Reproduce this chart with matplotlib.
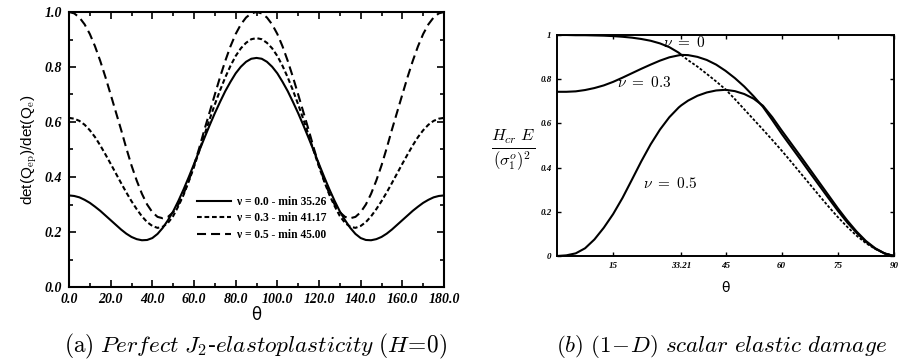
import matplotlib
matplotlib.use("Agg")
import matplotlib.pyplot as plt
from matplotlib.ticker import MultipleLocator

plt.rcParams['mathtext.fontset'] = 'cm'
plt.rcParams['lines.scale_dashes'] = False

# ---------------- data: panel (a) ----------------
theta_a = [0, 2.5, 5, 7.5, 10, 12.5, 15, 17.5, 20, 22.5, 25, 27.5, 30, 32.5, 35, 37.5, 40, 42.5, 45,
           47.5, 50, 52.5, 55, 57.5, 60, 62.5, 65, 67.5, 70, 72.5, 75, 77.5, 80, 82.5, 85, 87.5, 90,
           92.5, 95, 97.5, 100, 102.5, 105, 107.5, 110, 112.5, 115, 117.5, 120, 122.5, 125, 127.5, 130,
           132.5, 135, 137.5, 140, 142.5, 145, 147.5, 150, 152.5, 155, 157.5, 160, 162.5, 165, 167.5,
           170, 172.5, 175, 177.5, 180]
nu00_a = [0.333, 0.331, 0.326, 0.317, 0.306, 0.292, 0.277, 0.260, 0.243, 0.226, 0.209, 0.194, 0.182,
          0.174, 0.170, 0.171, 0.178, 0.193, 0.215, 0.243, 0.275, 0.313, 0.355, 0.400, 0.447, 0.495,
          0.542, 0.588, 0.632, 0.673, 0.712, 0.746, 0.777, 0.801, 0.819, 0.830, 0.833,
          0.830, 0.819, 0.801, 0.777, 0.746, 0.712, 0.673, 0.632, 0.588, 0.542, 0.495, 0.447, 0.400,
          0.355, 0.313, 0.275, 0.243, 0.215, 0.193, 0.178, 0.171, 0.170, 0.174, 0.182, 0.194, 0.209,
          0.226, 0.243, 0.260, 0.277, 0.292, 0.306, 0.317, 0.326, 0.331, 0.333]
nu03_a = [0.615, 0.612, 0.604, 0.590, 0.570, 0.545, 0.515, 0.482, 0.448, 0.413, 0.378, 0.344, 0.312,
          0.283, 0.257, 0.236, 0.222, 0.215, 0.219, 0.233, 0.258, 0.294, 0.335, 0.384, 0.437, 0.494,
          0.553, 0.610, 0.664, 0.715, 0.762, 0.804, 0.840, 0.868, 0.888, 0.901, 0.905,
          0.901, 0.888, 0.868, 0.840, 0.804, 0.762, 0.715, 0.664, 0.610, 0.553, 0.494, 0.437, 0.384,
          0.335, 0.294, 0.258, 0.233, 0.219, 0.215, 0.222, 0.236, 0.257, 0.283, 0.312, 0.344, 0.378,
          0.413, 0.448, 0.482, 0.515, 0.545, 0.570, 0.590, 0.604, 0.612, 0.615]
nu05_a = [1.000, 0.995, 0.980, 0.955, 0.920, 0.875, 0.822, 0.763, 0.700, 0.636, 0.572, 0.505, 0.442,
          0.387, 0.339, 0.300, 0.272, 0.255, 0.250, 0.255, 0.272, 0.300, 0.339, 0.387, 0.442, 0.505,
          0.572, 0.636, 0.700, 0.763, 0.822, 0.875, 0.920, 0.955, 0.980, 0.995, 1.000,
          0.995, 0.980, 0.955, 0.920, 0.875, 0.822, 0.763, 0.700, 0.636, 0.572, 0.505, 0.442, 0.387,
          0.339, 0.300, 0.272, 0.255, 0.250, 0.255, 0.272, 0.300, 0.339, 0.387, 0.442, 0.505, 0.572,
          0.636, 0.700, 0.763, 0.822, 0.875, 0.920, 0.955, 0.980, 0.995, 1.000]
labels_a = ["ν = 0.0 - min 35.26", "ν = 0.3 - min 41.17", "ν = 0.5 - min 45.00"]
xticks_a = [0, 20, 40, 60, 80, 100, 120, 140, 160, 180]
xticklabels_a = ["0.0", "20.0", "40.0", "60.0", "80.0", "100.0", "120.0", "140.0", "160.0", "180.0"]
yticks_a = [0.0, 0.2, 0.4, 0.6, 0.8, 1.0]
yticklabels_a = ["0.0", "0.2", "0.4", "0.6", "0.8", "1.0"]

# ---------------- data: panel (b) ----------------
theta_b = [0, 2.5, 5, 7.5, 10, 12.5, 15, 17.5, 20, 22.5, 25, 27.5, 30, 32.5, 33.21, 35, 37.5, 40,
           42.5, 45, 47.5, 50, 52.5, 55, 57.5, 60, 62.5, 65, 67.5, 70, 72.5, 75, 77.5, 80, 82.5,
           85, 87.5, 90]
nu0_b = [1.000, 1.000, 0.999, 0.999, 0.998, 0.997, 0.995, 0.992, 0.988, 0.982, 0.974, 0.962, 0.945,
         0.920, 0.910, 0.886, 0.857, 0.824, 0.790, 0.754, 0.710, 0.664, 0.618, 0.572, 0.525, 0.477,
         0.427, 0.376, 0.325, 0.274, 0.224, 0.176, 0.132, 0.092, 0.058, 0.032, 0.012, 0.000]
nu03_b = [0.743, 0.743, 0.745, 0.751, 0.760, 0.772, 0.788, 0.807, 0.827, 0.847, 0.866, 0.884, 0.899,
          0.908, 0.910, 0.909, 0.901, 0.887, 0.866, 0.838, 0.805, 0.767, 0.723, 0.675, 0.615, 0.553,
          0.495, 0.437, 0.378, 0.320, 0.262, 0.205, 0.152, 0.105, 0.064, 0.033, 0.011, 0.000]
nu05_b = [0.000, 0.003, 0.012, 0.035, 0.075, 0.128, 0.190, 0.263, 0.345, 0.428, 0.505, 0.572, 0.628,
          0.672, 0.682, 0.703, 0.725, 0.740, 0.749, 0.752, 0.746, 0.733, 0.712, 0.680, 0.628, 0.568,
          0.510, 0.452, 0.393, 0.334, 0.275, 0.216, 0.161, 0.111, 0.068, 0.035, 0.012, 0.000]
split_b = 14  # index of 33.21
xticks_b = [15, 33.21, 45, 60, 75, 90]
xticklabels_b = ["15", "33.21", "45", "60", "75", "90"]
yticks_b = [0, 0.2, 0.4, 0.6, 0.8, 1.0]
yticklabels_b = ["0", "0.2", "0.4", "0.6", "0.8", "1"]

fig = plt.figure(figsize=(9.06, 3.64), dpi=100)

# ---------------- panel (a) ----------------
ax = fig.add_axes([69/906, 1-287/364, 375/906, 275/364])
lw = 1.5
ax.plot(theta_a, nu00_a, color='black', lw=lw, label=labels_a[0])
ax.plot(theta_a, nu03_a, color='black', lw=lw, dashes=(3.4, 2.0), label=labels_a[1])
ax.plot(theta_a, nu05_a, color='black', lw=lw, dashes=(6.5, 3.6), label=labels_a[2])
ax.set_xlim(0, 180)
ax.set_ylim(0, 1.0)
ax.set_xticks(xticks_a)
ax.set_xticklabels(xticklabels_a)
ax.set_yticks(yticks_a)
ax.set_yticklabels(yticklabels_a)
ax.xaxis.set_minor_locator(MultipleLocator(10))
ax.yaxis.set_minor_locator(MultipleLocator(0.1))
ax.tick_params(which='both', direction='in', top=True, right=True, width=1.2)
ax.tick_params(which='major', length=5)
ax.tick_params(which='minor', length=3)
ax.tick_params(axis='x', pad=4)
ax.tick_params(axis='y', pad=5)
for lab in ax.get_xticklabels() + ax.get_yticklabels():
    lab.set_family('Liberation Serif')
    lab.set_style('italic')
    lab.set_weight('bold')
    lab.set_fontsize(10)
for s in ax.spines.values():
    s.set_linewidth(1.5)
ax.set_ylabel(r"det(Q$_{\mathrm{ep}}$)/det(Q$_{\mathrm{e}}$)", family='Liberation Sans', fontsize=11, labelpad=4)
ax.set_xlabel("θ", family='DejaVu Sans', fontsize=12, labelpad=0)
leg = ax.legend(loc='center left', bbox_to_anchor=(0.341, 0.25), frameon=False,
                prop={'family': 'Liberation Serif', 'weight': 'bold', 'size': 8.3},
                handlelength=3.0, handletextpad=0.5, labelspacing=0.4,
                borderpad=0, borderaxespad=0)

# ---------------- panel (b) ----------------
bx = fig.add_axes([557/906, 1-256/364, 337/906, 221/364])
bx.plot(theta_b[:split_b + 1], nu0_b[:split_b + 1], color='black', lw=1.5)
bx.plot(theta_b[split_b:], nu0_b[split_b:], color='black', lw=1.3, dashes=(2.0, 1.3))
bx.plot(theta_b, nu03_b, color='black', lw=1.5)
bx.plot(theta_b, nu05_b, color='black', lw=1.5)
bx.set_xlim(0, 90)
bx.set_ylim(0, 1.0)
bx.set_xticks(xticks_b)
bx.set_xticklabels(xticklabels_b)
bx.set_yticks(yticks_b)
bx.set_yticklabels(yticklabels_b)
bx.tick_params(direction='in', top=True, right=True, length=3, width=1.0, labelsize=6.5, pad=4)
for lab in bx.get_xticklabels() + bx.get_yticklabels():
    lab.set_family('Liberation Serif')
    lab.set_style('italic')
    lab.set_weight('bold')
for s in bx.spines.values():
    s.set_linewidth(1.4)
bx.set_xlabel("θ", family='DejaVu Sans', fontsize=10, labelpad=8)
bx.set_ylabel(r"$\frac{H_{cr}\ E}{(\sigma_1^o)^2}$", rotation=0, fontsize=17, va='center')
bx.yaxis.set_label_coords(-0.13, 0.48)
bx.text(34, 0.965, r"$\nu\ =\ 0$", fontsize=11, ha='center', va='center')
bx.text(23.2, 0.785, r"$\nu\ =\ 0.3$", fontsize=11, ha='center', va='center')
bx.text(30.2, 0.326, r"$\nu\ =\ 0.5$", fontsize=11, ha='center', va='center')

# ---------------- captions ----------------
fig.text(256/906, 1-346/364, r"$\mathrm{(a)}\ Perfect\ J_2$-$elastoplasticity\ (H\!=\!0)$",
         family='DejaVu Serif', fontsize=16.8, ha='center', va='center')
fig.text(722/906, 1-346/364, r"$(b)\ (1\!-\!D)\ scalar\ elastic\ damage$",
         fontsize=16.6, ha='center', va='center')

fig.savefig("out.png", dpi=100)
